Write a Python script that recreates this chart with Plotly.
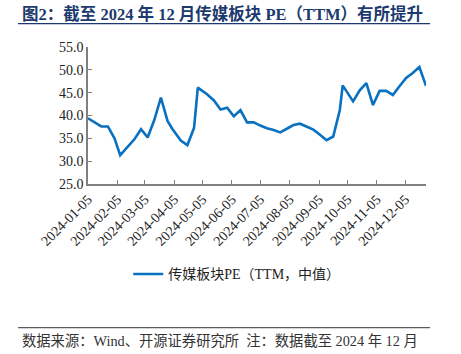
import plotly.graph_objects as go

dates = [
    "2024-01-05", "2024-01-12", "2024-01-19", "2024-01-26", "2024-02-02", "2024-02-08",
    "2024-02-23", "2024-03-01", "2024-03-08", "2024-03-15", "2024-03-22", "2024-03-29",
    "2024-04-03", "2024-04-12", "2024-04-19", "2024-04-26", "2024-04-30", "2024-05-10",
    "2024-05-17", "2024-05-24", "2024-05-31", "2024-06-07", "2024-06-14", "2024-06-21",
    "2024-06-28", "2024-07-05", "2024-07-12", "2024-07-19", "2024-07-26", "2024-08-02",
    "2024-08-09", "2024-08-16", "2024-08-23", "2024-08-30", "2024-09-06", "2024-09-13",
    "2024-09-20", "2024-09-27", "2024-09-30", "2024-10-11", "2024-10-18", "2024-10-25",
    "2024-11-01", "2024-11-08", "2024-11-15", "2024-11-22", "2024-11-29", "2024-12-06",
    "2024-12-13", "2024-12-20", "2024-12-27",
]
pe_values = [
    39.4, 38.5, 37.6, 37.6, 35.0, 31.3,
    34.8, 37.0, 35.2, 39.0, 43.9, 38.8,
    37.1, 34.5, 33.5, 37.3, 46.1, 44.6,
    43.3, 41.3, 41.7, 39.8, 41.2, 38.5,
    38.5, 37.8, 37.2, 36.8, 36.3, 37.1,
    37.9, 38.2, 37.5, 36.9, 35.8, 34.6,
    35.4, 41.2, 46.6, 43.1, 45.5, 47.1,
    42.3, 45.4, 45.4, 44.5, 46.4, 48.2,
    49.3, 50.6, 46.5,
]
tick_dates = [
    "2024-01-05", "2024-02-05", "2024-03-05", "2024-04-05", "2024-05-05", "2024-06-05",
    "2024-07-05", "2024-08-05", "2024-09-05", "2024-10-05", "2024-11-05", "2024-12-05",
]
series_name = "传媒板块PE（TTM，中值）"
title_text = "图2：截至 2024 年 12 月传媒板块 PE（TTM）有所提升"
source_text = "数据来源：Wind、开源证券研究所  注：数据截至 2024 年 12 月"

FONT = "Liberation Serif, Times New Roman, Noto Sans CJK SC"

fig = go.Figure()
fig.add_trace(go.Scatter(
    x=dates, y=pe_values, mode="lines", name=series_name,
    line=dict(color="#0a70c0", width=2.6),
))

fig.update_layout(
    width=461, height=354,
    margin=dict(l=88, r=35, t=47, b=170),
    paper_bgcolor="white", plot_bgcolor="white",
    font=dict(family=FONT, size=14, color="#222222"),
    showlegend=True,
    legend=dict(orientation="h", x=0.44, xanchor="center", y=-0.66, yanchor="middle",
                font=dict(family=FONT, size=14, color="#222222"),
                bgcolor="rgba(0,0,0,0)"),
    xaxis=dict(
        type="date", range=["2024-01-05", "2024-12-27"],
        tickmode="array", tickvals=tick_dates, ticktext=tick_dates,
        tickangle=-45, ticks="inside", ticklen=4, tickcolor="#808080",
        showline=True, linecolor="#808080", linewidth=1.5,
        showgrid=False, zeroline=False,
        tickfont=dict(family=FONT, size=14, color="#222222"),
    ),
    yaxis=dict(
        range=[25, 55], dtick=5, tick0=25, tickformat=".1f",
        ticks="inside", ticklen=4, tickcolor="#808080",
        showline=True, linecolor="#808080", linewidth=1.5,
        showgrid=False, zeroline=False,
        tickfont=dict(family=FONT, size=14, color="#222222"),
    ),
    annotations=[
        dict(text="<b>" + title_text + "</b>", xref="paper", yref="paper",
             x=-0.201, y=1.243, xanchor="left", yanchor="middle", showarrow=False,
             font=dict(family=FONT, size=16.5, color="#1c3a6e")),
        dict(text=source_text, xref="paper", yref="paper",
             x=-0.201, y=-1.144, xanchor="left", yanchor="middle", showarrow=False,
             font=dict(family=FONT, size=14.3, color="#333333")),
    ],
    shapes=[
        dict(type="line", xref="paper", yref="paper", x0=-0.207, x1=1.012,
             y0=1.170, y1=1.170, line=dict(color="#1c3a6e", width=1.2)),
        dict(type="line", xref="paper", yref="paper", x0=-0.207, x1=1.012,
             y0=-1.049, y1=-1.049, line=dict(color="#333333", width=1)),
    ],
)

fig.write_html("out.html")
